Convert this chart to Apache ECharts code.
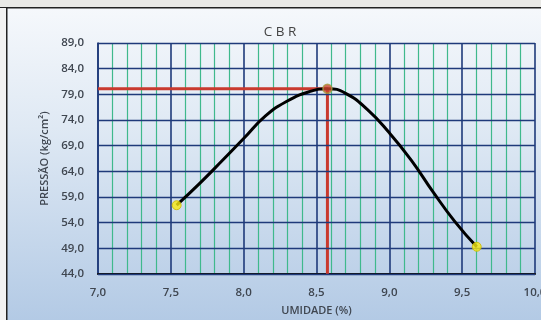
<!DOCTYPE html>
<html>
<head>
<meta charset="utf-8">
<script src="https://cdn.jsdelivr.net/npm/echarts@6/dist/echarts.min.js"></script>
<style>
  html, body { margin: 0; padding: 0; background: #fff; }
  #chart { width: 541px; height: 320px; }
</style>
</head>
<body>
<div id="chart"></div>
<script>
// curve (umidade %, pressão kg/cm²)
const curveX = [7.54, 7.7, 7.85, 8.0, 8.15, 8.3, 8.45, 8.575, 8.7, 8.85, 9.0, 9.15, 9.3, 9.45, 9.6];
const curveY = [57.4, 61.7, 66.0, 70.4, 74.8, 77.7, 79.5, 80.1, 79.2, 76.0, 71.5, 66.2, 60.0, 54.2, 49.3];
const endPointsX = [7.54, 9.6];
const endPointsY = [57.4, 49.3];
const peakX = 8.575;
const peakY = 80.1;
const yTicks = [44, 49, 54, 59, 64, 69, 74, 79, 84, 89];
const xMin = 7, xMax = 10, yMin = 44, yMax = 89;

const fmt = v => v.toFixed(1).replace('.', ',');
const labelFont = { fontFamily: 'Open Sans', fontSize: 11.5, fontWeight: 600, color: '#3f4650' };

const chart = echarts.init(document.getElementById('chart'));
chart.setOption({
  backgroundColor: {
    type: 'linear', x: 0, y: 0, x2: 0, y2: 1,
    colorStops: [{ offset: 0, color: '#f7f9fc' }, { offset: 0.4, color: '#dfe9f4' }, { offset: 1, color: '#b3cae5' }]
  },
  animation: false,
  title: {
    text: 'C B R', left: 275, top: 20, textAlign: 'center',
    textStyle: { fontFamily: 'Open Sans', fontSize: 13.5, fontWeight: 'normal', color: '#444' }
  },
  grid: { left: 98, right: 6, top: 43, bottom: 46, outerBoundsMode: 'none' },
  xAxis: {
    type: 'value', min: xMin, max: xMax, interval: 0.5,
    name: 'UMIDADE (%)', nameLocation: 'middle', nameGap: 31,
    nameTextStyle: { fontFamily: 'Open Sans', fontSize: 11, fontWeight: 600, color: '#3f4650' },
    axisLine: { show: true, lineStyle: { color: '#111', width: 2 } },
    axisTick: { show: false },
    axisLabel: Object.assign({ margin: 13, formatter: v => fmt(v) }, labelFont),
    splitLine: { show: true, lineStyle: { color: '#1f3a7a', width: 1.6 } },
    minorTick: { show: false, splitNumber: 5 },
    minorSplitLine: { show: true, lineStyle: { color: '#3fb98c', width: 1.2 } }
  },
  yAxis: {
    type: 'value', min: yMin, max: yMax,
    name: 'PRESSÃO (kg/cm²)', nameLocation: 'middle', nameGap: 40,
    nameTextStyle: { fontFamily: 'Open Sans', fontSize: 11, fontWeight: 600, color: '#3f4650' },
    axisLine: { show: true, lineStyle: { color: '#1f3a7a', width: 1.6 } },
    axisTick: { show: false, customValues: yTicks },
    axisLabel: Object.assign({ margin: 14, customValues: yTicks, formatter: v => fmt(v) }, labelFont),
    splitLine: { show: false }
  },
  series: [
    {
      // horizontal grid lines at the tick values
      type: 'line', data: [], silent: true,
      markLine: {
        symbol: 'none', silent: true, label: { show: false },
        lineStyle: { color: '#1f3a7a', width: 1.4, type: 'solid' },
        data: yTicks.map(v => ({ yAxis: v }))
      }
    },
    {
      type: 'line', silent: true, symbol: 'none', z: 4,
      lineStyle: { color: '#c9392e', width: 3 },
      data: [[xMin, peakY], [peakX, peakY], [peakX, yMin]]
    },
    {
      type: 'line', smooth: 0.5, symbol: 'none', z: 5,
      lineStyle: { color: '#000', width: 3 },
      data: curveX.map((x, i) => [x, curveY[i]])
    },
    {
      type: 'scatter', z: 6, symbolSize: 9,
      itemStyle: { color: '#f7ea12', borderColor: '#c9b800', borderWidth: 1 },
      data: endPointsX.map((x, i) => [x, endPointsY[i]])
    },
    {
      type: 'scatter', z: 6, symbolSize: 9,
      itemStyle: { color: '#d0452e', borderColor: '#a89a40', borderWidth: 1.5 },
      data: [[peakX, peakY]]
    }
  ],
  graphic: [
    { type: 'rect', shape: { x: 0, y: 0, width: 541, height: 7 }, style: { fill: '#e9e9e6' }, silent: true },
    { type: 'rect', shape: { x: 0, y: 7, width: 541, height: 1.5 }, style: { fill: '#222' }, silent: true },
    { type: 'rect', shape: { x: 6, y: 7, width: 1.5, height: 313 }, style: { fill: '#222' }, silent: true },
    { type: 'rect', shape: { x: 0, y: 8, width: 6, height: 312 }, style: { fill: '#f2f2f2' }, silent: true }
  ]
});
</script>
</body>
</html>
